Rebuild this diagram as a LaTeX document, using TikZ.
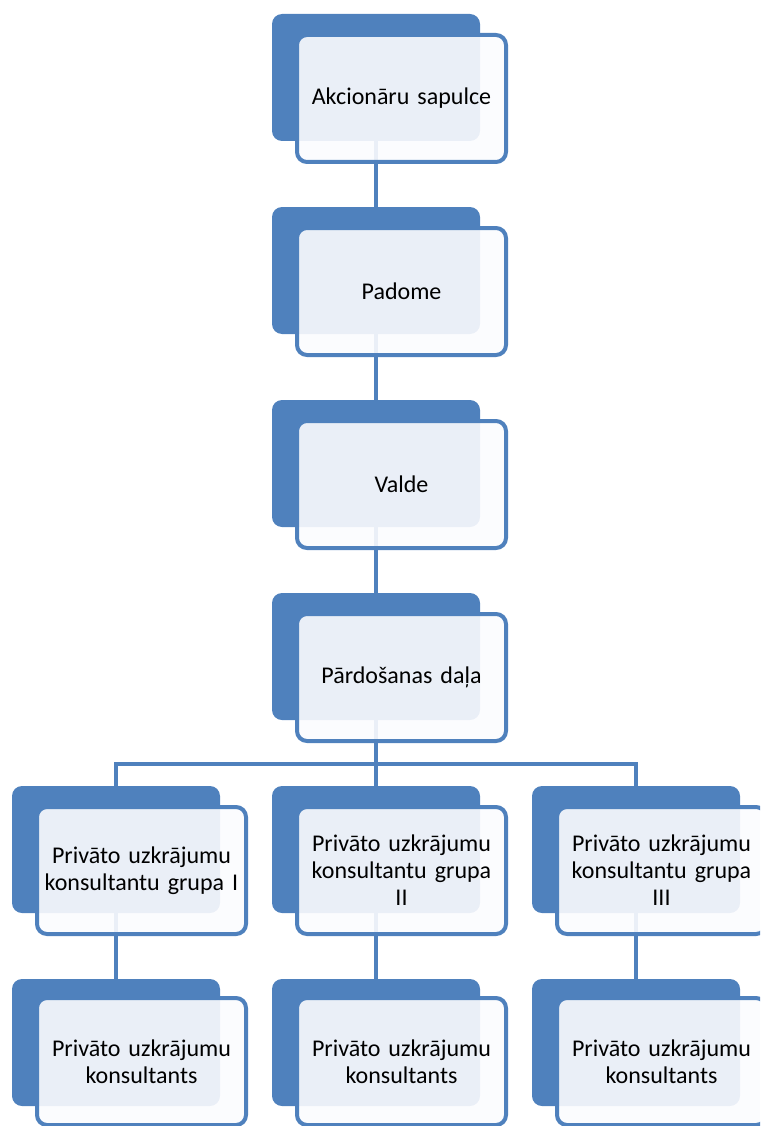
\documentclass[tikz,border=0pt]{standalone}
\usepackage{fontspec}
\setmainfont{Carlito}[WordSpace={0.85,0,0}]
\definecolor{accent}{HTML}{4F81BD}
\definecolor{lightfill}{HTML}{FBFCFE}
\begin{document}
\begin{tikzpicture}[x=1pt,y=-1pt,
 backbox/.style={rectangle, rounded corners=10pt, fill=accent, minimum width=208pt, minimum height=127pt, inner sep=0pt},
 frontbox/.style={rectangle, rounded corners=10pt, draw=accent, line width=4pt, fill=lightfill, fill opacity=0.9, text opacity=1, minimum width=209pt, minimum height=127pt, align=center, font=\fontsize{24}{27}\selectfont, inner sep=0pt, text width=205pt},
 link/.style={draw=accent, line width=4pt}]
\useasboundingbox (0,0) rectangle (760,1126);
\clip (0,0) rectangle (760,1126);
% back boxes
\node[backbox] (b1) at (376,77.5) {};
\node[backbox] (b2) at (376,270.5) {};
\node[backbox] (b3) at (376,463.5) {};
\node[backbox] (b4) at (376,656.5) {};
\node[backbox] (b5) at (116,849.5) {};
\node[backbox] (b6) at (376,849.5) {};
\node[backbox] (b7) at (636,849.5) {};
\node[backbox] (b8) at (116,1042.5) {};
\node[backbox] (b9) at (376,1042.5) {};
\node[backbox] (b10) at (636,1042.5) {};
% connectors
\coordinate (j) at (376,764);
\draw[link] (b1.south) -- (b2.north);
\draw[link] (b2.south) -- (b3.north);
\draw[link] (b3.south) -- (b4.north);
\draw[link] (b4.south) -- (j);
\draw[link] (b5.north) -- (b5.north |- j) -- (b7.north |- j) -- (b7.north);
\draw[link] (j) -- (b6.north);
\draw[link] (b5.south) -- (b8.north);
\draw[link] (b6.south) -- (b9.north);
\draw[link] (b7.south) -- (b10.north);
% front boxes
\node[frontbox] (f1) at (401.5,98.5) {Akcionāru sapulce};
\node[frontbox] (f2) at (401.5,291.5) {Padome};
\node[frontbox] (f3) at (401.5,484.5) {Valde};
\node[frontbox] (f4) at (401.5,677.5) {Pārdošanas daļa};
\node[frontbox] (f5) at (141.5,870.5) {Privāto uzkrājumu\\konsultantu grupa I};
\node[frontbox] (f6) at (401.5,870.5) {Privāto uzkrājumu\\konsultantu grupa\\II};
\node[frontbox] (f7) at (661.5,870.5) {Privāto uzkrājumu\\konsultantu grupa\\III};
\node[frontbox] (f8) at (141.5,1061.5) {Privāto uzkrājumu\\konsultants};
\node[frontbox] (f9) at (401.5,1061.5) {Privāto uzkrājumu\\konsultants};
\node[frontbox] (f10) at (661.5,1061.5) {Privāto uzkrājumu\\konsultants};
\end{tikzpicture}
\end{document}
